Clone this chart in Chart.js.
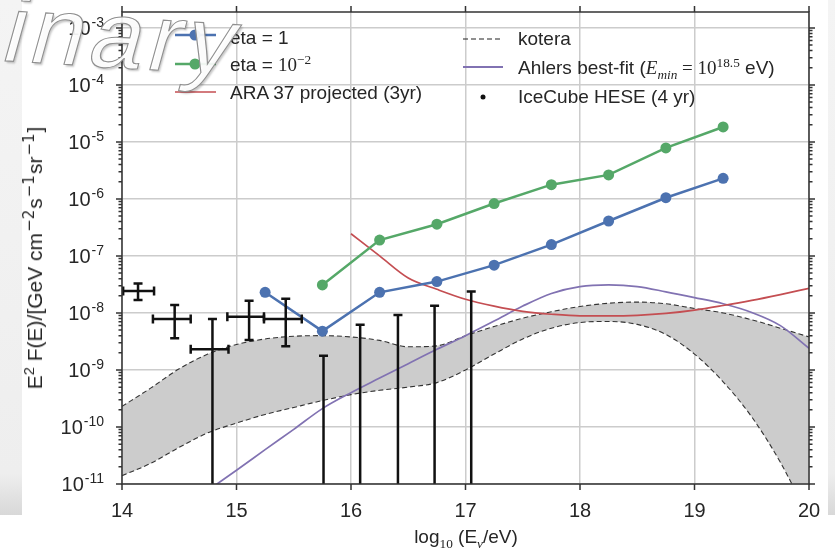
<!DOCTYPE html>
<html>
<head>
<meta charset="utf-8">
<script src="https://cdn.jsdelivr.net/npm/chart.js@4.4.1/dist/chart.umd.min.js"></script>
<style>
  body { margin: 0; background: #fff; }
  #wrap { position: relative; width: 835px; height: 550px; overflow: hidden;
          font-family: "Liberation Sans", Arial, sans-serif; color: #262626; }
  #edgeLeft { position: absolute; left: 0; top: 0; width: 22px; height: 515px;
              background: linear-gradient(to bottom, #f4f4f4 0%, #eeeeee 92%, #d8d8d8 100%); }
  #edgeRight { position: absolute; left: 828px; top: 0; width: 7px; height: 515px;
               background: linear-gradient(to bottom, #f4f4f4 0%, #eeeeee 92%, #d8d8d8 100%); }
  canvas { position: absolute; left: 0; top: 0; }
  .txt { position: absolute; font-size: 19px; line-height: 19px; white-space: nowrap; }
  .m { font-family: "Liberation Serif", "DejaVu Serif", serif; }
  .mi { font-family: "Liberation Serif", "DejaVu Serif", serif; font-style: italic; }
  sup, sub { font-size: 0.7em; line-height: 0; }
  #ytitle { position: absolute; left: 35px; top: 258px; font-size: 21px; white-space: nowrap;
            transform: translate(-50%, -50%) rotate(-90deg); }
  #ytitle sup.u { font-family: "DejaVu Sans", sans-serif; font-size: 15px; padding: 0 1px; }
  #xtitle { position: absolute; left: 466px; top: 537px; font-size: 19px; white-space: nowrap;
            transform: translate(-50%, -50%); }
  #stamp { position: absolute; left: -284px; top: -37px; font-size: 95px; line-height: 95px;
           letter-spacing: 6px; white-space: nowrap; color: rgba(255,255,255,0.92);
           -webkit-text-stroke: 1.1px #8f8f8f;
           text-shadow: 2px 2px 2px rgba(0,0,0,0.22);
           transform-origin: 0 0; transform: rotate(3.5deg) skewX(-12deg); }
</style>
</head>
<body>
<div id="wrap">
  <div id="edgeLeft"></div>
  <div id="edgeRight"></div>
  <canvas id="fluxChart" width="835" height="550"></canvas>

  <div class="txt" style="left:230px; top:28px;">eta = 1</div>
  <div class="txt" style="left:230px; top:55px;">eta = <span class="m">10<sup>−2</sup></span></div>
  <div class="txt" style="left:230px; top:83px;">ARA 37 projected (3yr)</div>
  <div class="txt" style="left:518px; top:29px;">kotera</div>
  <div class="txt" style="left:518px; top:58px;">Ahlers best-fit (<span class="mi">E<sub>min</sub></span><span class="m"> = 10<sup>18.5</sup></span> eV)</div>
  <div class="txt" style="left:518px; top:87px;">IceCube HESE (4 yr)</div>

  <div id="ytitle">E<sup>2</sup> F(E)/[GeV cm<sup class="u">−2</sup>s<sup class="u">−1</sup>sr<sup class="u">−1</sup>]</div>
  <div id="xtitle">log<sub class="m">10</sub> (E<sub class="mi">ν</sub>/eV)</div>

  <div id="stamp">Preliminary</div>
</div>

<script>
// axis ticks
const X_TICKS = [14, 15, 16, 17, 18, 19, 20];
const Y_EXPONENTS = [-11, -10, -9, -8, -7, -6, -5, -4, -3];
const Y_MIN = 1e-11;
const Y_MAX = 1.9e-3;

// eta = 1 and eta = 1e-2 model fluxes
const ETA1_E = [15.25, 15.75, 16.25, 16.75, 17.25, 17.75, 18.25, 18.75, 19.25];
const ETA1_FLUX = [2.3e-8, 4.8e-9, 2.3e-8, 3.55e-8, 6.9e-8, 1.58e-7, 4.1e-7, 1.05e-6, 2.3e-6];
const ETA2_E = [15.75, 16.25, 16.75, 17.25, 17.75, 18.25, 18.75, 19.25];
const ETA2_FLUX = [3.1e-8, 1.9e-7, 3.6e-7, 8.3e-7, 1.78e-6, 2.64e-6, 7.85e-6, 1.83e-5];

// ARA 37 projected sensitivity (3 yr)
const ARA_E = [16.0, 16.25, 16.5, 16.75, 17.0, 17.25, 17.5, 17.75, 18.0, 18.25, 18.5, 18.75, 19.0, 19.25, 19.5, 19.75, 20.0];
const ARA_FLUX = [2.45e-7, 1.0e-7, 4.1e-8, 2.6e-8, 1.74e-8, 1.32e-8, 1.07e-8, 9.5e-9, 8.9e-9, 8.9e-9, 9.1e-9, 9.8e-9, 1.12e-8, 1.35e-8, 1.66e-8, 2.1e-8, 2.7e-8];

// Ahlers best-fit
const AHLERS_E = [14.8, 15.0, 15.25, 15.5, 15.75, 16.0, 16.25, 16.5, 16.75, 17.0, 17.25, 17.5, 17.75, 18.0, 18.25, 18.5, 18.75, 19.0, 19.25, 19.5, 19.75, 20.0];
const AHLERS_FLUX = [9.1e-12, 1.74e-11, 4e-11, 9.1e-11, 2.1e-10, 4e-10, 7.2e-10, 1.29e-9, 2.3e-9, 4e-9, 7.2e-9, 1.32e-8, 2.2e-8, 2.9e-8, 3.1e-8, 2.9e-8, 2.35e-8, 1.86e-8, 1.45e-8, 1.02e-8, 6e-9, 2.4e-9];

// kotera band edges
const KOTERA_E = [14.0, 14.25, 14.5, 14.75, 15.0, 15.25, 15.5, 15.75, 16.0, 16.25, 16.5, 16.75, 17.0, 17.25, 17.5, 17.75, 18.0, 18.25, 18.5, 18.75, 19.0, 19.25, 19.5, 19.75, 20.0];
const KOTERA_HI = [2.3e-10, 4.8e-10, 1.05e-9, 1.9e-9, 2.8e-9, 3.5e-9, 3.9e-9, 4e-9, 3.8e-9, 3.3e-9, 2.55e-9, 2.65e-9, 4e-9, 5.8e-9, 8.1e-9, 1.05e-8, 1.3e-8, 1.48e-8, 1.55e-8, 1.45e-8, 1.2e-8, 1e-8, 7.6e-9, 5.4e-9, 3.8e-9];
const KOTERA_LO = [1.4e-11, 2.3e-11, 4.4e-11, 7.9e-11, 1.17e-10, 1.66e-10, 2.2e-10, 2.9e-10, 3.7e-10, 4.4e-10, 5e-10, 6e-10, 1e-9, 1.9e-9, 3.5e-9, 5.4e-9, 6.8e-9, 7.1e-9, 6.3e-9, 4.2e-9, 1.9e-9, 6.2e-10, 1.5e-10, 2.4e-11, 2.5e-12];

// IceCube HESE 4 yr: bins, flux and errors (null = limit / off scale)
const HESE_E = [14.14, 14.46, 14.79, 15.11, 15.43, 15.76, 16.08, 16.41, 16.73, 17.05];
const HESE_BIN_LO = [14.01, 14.27, 14.6, 14.92, 15.24, null, null, null, null, null];
const HESE_BIN_HI = [14.28, 14.6, 14.93, 15.24, 15.57, null, null, null, null, null];
const HESE_FLUX = [2.43e-8, 7.85e-9, 2.3e-9, 8.6e-9, 7.85e-9, null, null, null, null, null];
const HESE_ERR_LO = [1.69e-8, 3.6e-9, null, 3.36e-9, 2.6e-9, null, null, null, null, null];
const HESE_ERR_HI = [3.3e-8, 1.38e-8, 7.85e-9, 1.64e-8, 1.78e-8, 1.78e-9, 6.2e-9, 9.2e-9, 1.34e-8, 2.37e-8];

const BLUE = '#4c72b0';
const GREEN = '#55a868';
const RED = '#c44e52';
const PURPLE = '#8172b2';
const INK = '#262626';

function zip(xs, ys) {
    return xs.map((x, i) => ({ x: x, y: ys[i] }));
}

// error bars for the HESE points
const errorBars = {
    id: 'errorBars',
    afterDatasetsDraw(chart) {
        const { ctx, chartArea: a, scales: { x, y } } = chart;
        ctx.save();
        ctx.beginPath();
        ctx.rect(a.left, a.top, a.right - a.left, a.bottom - a.top);
        ctx.clip();
        ctx.strokeStyle = '#111';
        ctx.lineWidth = 2.5;
        const cap = 4.5;
        HESE_E.forEach((e, i) => {
            const px = x.getPixelForValue(e);
            const top = y.getPixelForValue(HESE_ERR_HI[i]);
            const bot = HESE_ERR_LO[i] === null ? a.bottom + 5 : y.getPixelForValue(HESE_ERR_LO[i]);
            ctx.beginPath();
            ctx.moveTo(px, bot);
            ctx.lineTo(px, top);
            ctx.moveTo(px - cap, top);
            ctx.lineTo(px + cap, top);
            if (HESE_ERR_LO[i] !== null) {
                ctx.moveTo(px - cap, bot);
                ctx.lineTo(px + cap, bot);
            }
            if (HESE_FLUX[i] !== null) {
                const py = y.getPixelForValue(HESE_FLUX[i]);
                const l = x.getPixelForValue(HESE_BIN_LO[i]);
                const r = x.getPixelForValue(HESE_BIN_HI[i]);
                ctx.moveTo(l, py);
                ctx.lineTo(r, py);
                ctx.moveTo(l, py - cap);
                ctx.lineTo(l, py + cap);
                ctx.moveTo(r, py - cap);
                ctx.lineTo(r, py + cap);
            }
            ctx.stroke();
        });
        ctx.restore();
    }
};

// spines, tick marks, tick labels and legend handles
const axisDecor = {
    id: 'axisDecor',
    afterDraw(chart) {
        const { ctx, chartArea: a, scales: { x, y } } = chart;
        ctx.save();
        ctx.strokeStyle = '#333';
        ctx.lineWidth = 1.5;
        ctx.strokeRect(a.left, a.top, a.right - a.left, a.bottom - a.top);

        ctx.beginPath();
        X_TICKS.forEach(v => {
            const px = x.getPixelForValue(v);
            ctx.moveTo(px, a.bottom); ctx.lineTo(px, a.bottom + 6);
            ctx.moveTo(px, a.top); ctx.lineTo(px, a.top - 6);
        });
        Y_EXPONENTS.forEach(e => {
            const py = y.getPixelForValue(Math.pow(10, e));
            ctx.moveTo(a.left, py); ctx.lineTo(a.left - 6, py);
            ctx.moveTo(a.right, py); ctx.lineTo(a.right + 6, py);
            for (let m = 2; m <= 9; m++) {
                const v = m * Math.pow(10, e);
                if (v > Y_MAX) break;
                const pm = y.getPixelForValue(v);
                ctx.moveTo(a.left, pm); ctx.lineTo(a.left - 3.5, pm);
                ctx.moveTo(a.right, pm); ctx.lineTo(a.right + 3.5, pm);
            }
        });
        ctx.stroke();

        ctx.fillStyle = INK;
        ctx.textBaseline = 'alphabetic';
        ctx.textAlign = 'center';
        ctx.font = '20px "Liberation Sans", Arial, sans-serif';
        X_TICKS.forEach(v => {
            ctx.fillText(String(v), x.getPixelForValue(v), a.bottom + 33);
        });
        ctx.textAlign = 'right';
        Y_EXPONENTS.forEach(e => {
            const py = y.getPixelForValue(Math.pow(10, e));
            ctx.font = '14px "Liberation Sans", Arial, sans-serif';
            const sup = String(e);
            ctx.fillText(sup, a.left - 18, py - 1);
            const w = ctx.measureText(sup).width;
            ctx.font = '20px "Liberation Sans", Arial, sans-serif';
            ctx.fillText('10', a.left - 19 - w, py + 7);
        });

        // legend handles
        ctx.lineWidth = 2.5;
        [[BLUE, 35], [GREEN, 64]].forEach(([c, ly]) => {
            ctx.strokeStyle = c; ctx.fillStyle = c;
            ctx.beginPath(); ctx.moveTo(175, ly); ctx.lineTo(216, ly); ctx.stroke();
            ctx.beginPath(); ctx.arc(195, ly, 5.5, 0, Math.PI * 2); ctx.fill();
        });
        ctx.lineWidth = 1.5; ctx.strokeStyle = RED;
        ctx.beginPath(); ctx.moveTo(175, 92); ctx.lineTo(216, 92); ctx.stroke();
        ctx.lineWidth = 1.1; ctx.strokeStyle = '#222'; ctx.setLineDash([5, 3]);
        ctx.beginPath(); ctx.moveTo(463, 39); ctx.lineTo(503, 39); ctx.stroke();
        ctx.setLineDash([]);
        ctx.lineWidth = 2; ctx.strokeStyle = PURPLE;
        ctx.beginPath(); ctx.moveTo(463, 67); ctx.lineTo(503, 67); ctx.stroke();
        ctx.fillStyle = '#111';
        ctx.beginPath(); ctx.arc(483, 97, 2.5, 0, Math.PI * 2); ctx.fill();
        ctx.restore();
    }
};

const ctx = document.getElementById('fluxChart');
new Chart(ctx, {
    type: 'line',
    data: {
        datasets: [
            {
                label: 'eta = 1',
                data: zip(ETA1_E, ETA1_FLUX),
                borderColor: BLUE, backgroundColor: BLUE,
                borderWidth: 2.5, pointRadius: 5.5, pointBorderWidth: 0,
                tension: 0, order: 1
            },
            {
                label: 'eta = 10^-2',
                data: zip(ETA2_E, ETA2_FLUX),
                borderColor: GREEN, backgroundColor: GREEN,
                borderWidth: 2.5, pointRadius: 5.5, pointBorderWidth: 0,
                tension: 0, order: 2
            },
            {
                label: 'ARA 37 projected (3yr)',
                data: zip(ARA_E, ARA_FLUX),
                borderColor: RED, borderWidth: 1.7, pointRadius: 0,
                cubicInterpolationMode: 'monotone', order: 3
            },
            {
                label: 'Ahlers best-fit',
                data: zip(AHLERS_E, AHLERS_FLUX),
                borderColor: PURPLE, borderWidth: 1.7, pointRadius: 0,
                cubicInterpolationMode: 'monotone', order: 4
            },
            {
                label: 'kotera',
                data: zip(KOTERA_E, KOTERA_HI),
                borderColor: '#333', borderWidth: 1.1, borderDash: [5, 3], pointRadius: 0,
                cubicInterpolationMode: 'monotone', order: 5
            },
            {
                label: 'kotera (low)',
                data: zip(KOTERA_E, KOTERA_LO),
                borderColor: '#333', borderWidth: 1.1, borderDash: [5, 3], pointRadius: 0,
                backgroundColor: '#cccccc', fill: '-1',
                cubicInterpolationMode: 'monotone', order: 6
            }
        ]
    },
    options: {
        responsive: false,
        animation: false,
        devicePixelRatio: 1,
        layout: { padding: { left: 122, right: 26, top: 12, bottom: 66 } },
        plugins: {
            legend: { display: false },
            tooltip: { enabled: false }
        },
        scales: {
            x: {
                type: 'linear',
                min: 14, max: 20,
                afterBuildTicks: scale => { scale.ticks = X_TICKS.map(v => ({ value: v })); },
                ticks: { display: false },
                grid: { color: '#cccccc', lineWidth: 1.5, drawTicks: false },
                border: { display: false }
            },
            y: {
                type: 'logarithmic',
                min: Y_MIN, max: Y_MAX,
                afterBuildTicks: scale => { scale.ticks = Y_EXPONENTS.map(e => ({ value: Math.pow(10, e) })); },
                ticks: { display: false },
                grid: { color: '#cccccc', lineWidth: 1.5, drawTicks: false },
                border: { display: false }
            }
        }
    },
    plugins: [errorBars, axisDecor]
});
</script>
</body>
</html>
